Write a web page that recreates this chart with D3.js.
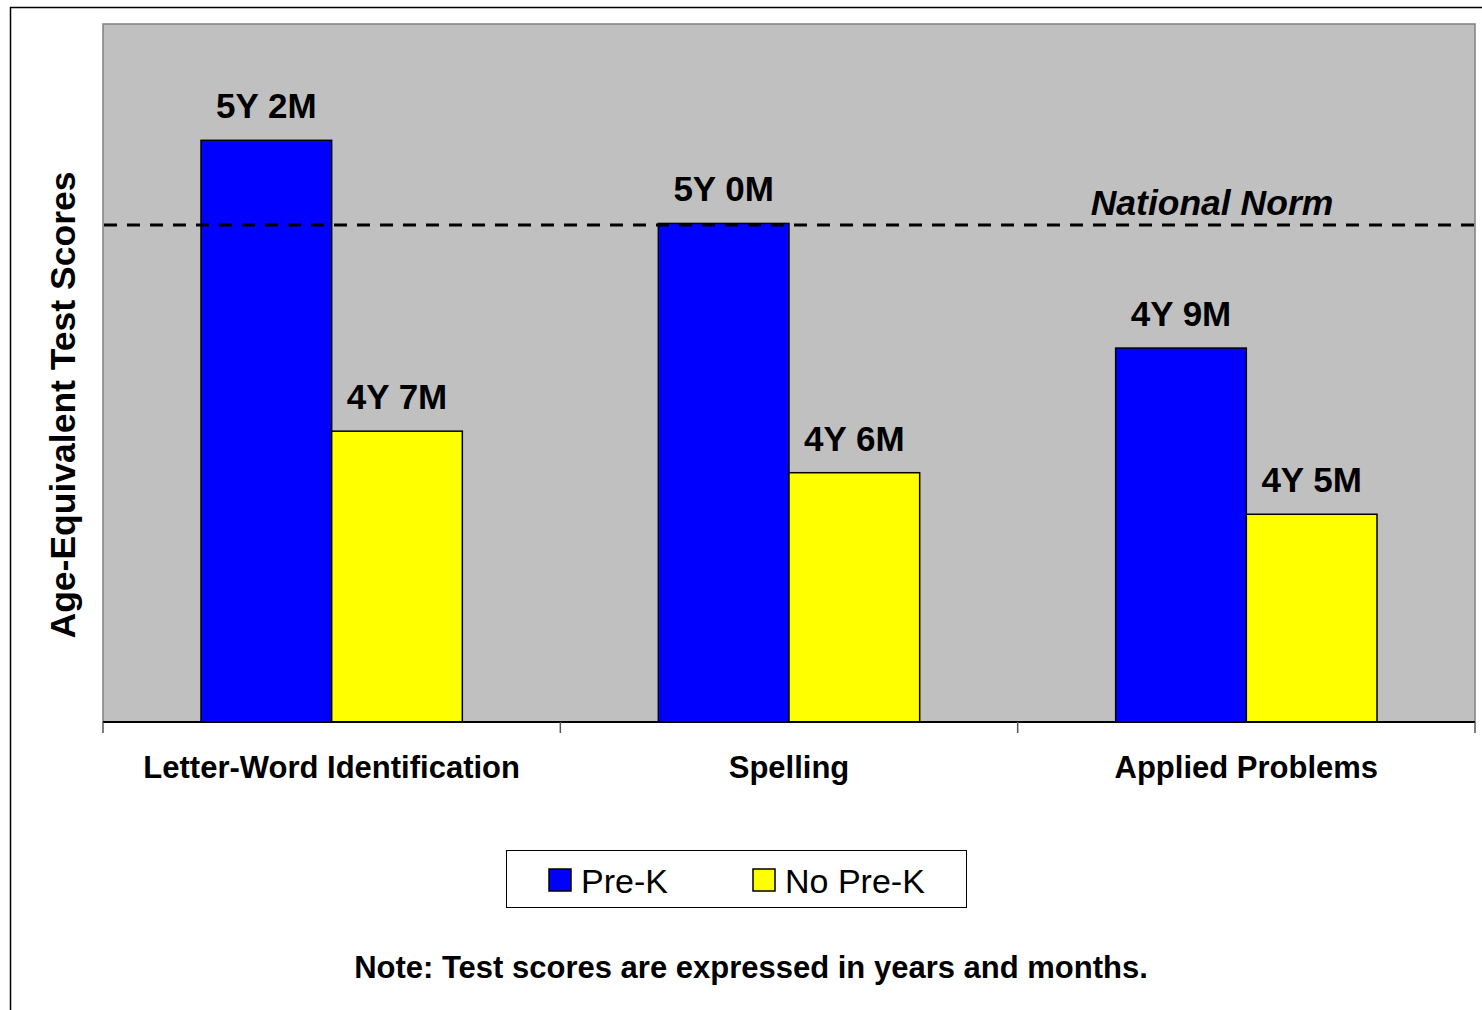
<!DOCTYPE html>
<html>
<head>
<meta charset="utf-8">
<script src="https://cdn.jsdelivr.net/npm/d3@7"></script>
<style>
  body { margin: 0; background: #fff; }
  svg { display: block; font-family: Arial, "Liberation Sans", sans-serif; }
</style>
</head>
<body>
<svg id="chart" width="1482" height="1010"></svg>
<script>
// data (scores in months)
const categories = ["Letter-Word Identification", "Spelling", "Applied Problems"];
const series = ["Pre-K", "No Pre-K"];
const preK = [62, 60, 57];
const noPreK = [55, 54, 53];
const seriesColors = ["#0000ff", "#ffff00"];
const nationalNorm = 60;
const yDomain = [48, 64.8];
const noteText = "Note: Test scores are expressed in years and months.";

const fmt = m => `${Math.floor(m / 12)}Y ${m % 12}M`;

const plot = { left: 103, right: 1475, top: 24, bottom: 722 };

const svg = d3.select("#chart");

// outer chart border (runs off the picture edge)
svg.append("rect")
  .attr("x", 10.5).attr("y", 7.5)
  .attr("width", 1600).attr("height", 1200)
  .attr("fill", "#fff")
  .attr("stroke", "#000")
  .attr("stroke-width", 1.5);

const x0 = d3.scaleBand()
  .domain(categories)
  .range([plot.left, plot.right])
  .padding(0);

const x1 = d3.scaleBand()
  .domain(series)
  .range([0, x0.bandwidth()])
  .paddingInner(0)
  .paddingOuter(0.75);

const y = d3.scaleLinear()
  .domain(yDomain)
  .range([plot.bottom, plot.top]);

// plot area
svg.append("rect")
  .attr("x", plot.left).attr("y", plot.top)
  .attr("width", plot.right - plot.left)
  .attr("height", plot.bottom - plot.top)
  .attr("fill", "#c0c0c0")
  .attr("stroke", "#808080")
  .attr("stroke-width", 1.5);

const rows = categories.map((c, i) => ({ cat: c, values: [preK[i], noPreK[i]] }));

const groups = svg.append("g")
  .selectAll("g")
  .data(rows)
  .join("g")
  .attr("transform", d => `translate(${x0(d.cat)},0)`);

groups.selectAll("rect")
  .data(d => d.values.map((v, j) => ({ s: series[j], v, j })))
  .join("rect")
  .attr("x", d => x1(d.s))
  .attr("y", d => y(d.v))
  .attr("width", x1.bandwidth())
  .attr("height", d => y(yDomain[0]) - y(d.v))
  .attr("fill", d => seriesColors[d.j])
  .attr("stroke", "#000")
  .attr("stroke-width", 1.5);

groups.selectAll("text")
  .data(d => d.values.map((v, j) => ({ s: series[j], v, j })))
  .join("text")
  .attr("x", d => x1(d.s) + x1.bandwidth() / 2)
  .attr("y", d => y(d.v) - 22)
  .attr("text-anchor", "middle")
  .attr("font-size", 35)
  .attr("font-weight", "bold")
  .attr("fill", "#000")
  .text(d => fmt(d.v));

// national norm line
svg.append("line")
  .attr("x1", plot.left + 1).attr("x2", plot.right)
  .attr("y1", y(nationalNorm) + 1.5).attr("y2", y(nationalNorm) + 1.5)
  .attr("stroke", "#000")
  .attr("stroke-width", 3)
  .attr("stroke-dasharray", "13,10");

svg.append("text")
  .attr("x", 1212)
  .attr("y", 215)
  .attr("text-anchor", "middle")
  .attr("font-size", 35.5)
  .attr("font-weight", "bold")
  .attr("font-style", "italic")
  .text("National Norm");

// x axis
const xAxis = svg.append("g")
  .attr("transform", `translate(0,${plot.bottom})`);

xAxis.append("line")
  .attr("x1", plot.left).attr("x2", plot.right)
  .attr("stroke", "#000").attr("stroke-width", 2);

const tickXs = categories.map(c => x0(c)).concat([plot.right]);
xAxis.selectAll("line.tick")
  .data(tickXs)
  .join("line")
  .attr("class", "tick")
  .attr("x1", d => d).attr("x2", d => d)
  .attr("y1", 0).attr("y2", 11)
  .attr("stroke", "#555").attr("stroke-width", 1.5);

xAxis.selectAll("text")
  .data(categories)
  .join("text")
  .attr("x", d => x0(d) + x0.bandwidth() / 2)
  .attr("y", 56)
  .attr("text-anchor", "middle")
  .attr("font-size", 31)
  .attr("font-weight", "bold")
  .text(d => d);

// y axis title
svg.append("text")
  .attr("transform", "translate(75,405) rotate(-90)")
  .attr("text-anchor", "middle")
  .attr("font-size", 35.5)
  .attr("font-weight", "bold")
  .text("Age-Equivalent Test Scores");

// legend
const legend = svg.append("g");
legend.append("rect")
  .attr("x", 506.5).attr("y", 850.5)
  .attr("width", 460).attr("height", 57)
  .attr("fill", "#fff")
  .attr("stroke", "#000")
  .attr("stroke-width", 1);

const legendX = [549, 753];
const items = legend.selectAll("g.item")
  .data(series)
  .join("g")
  .attr("class", "item")
  .attr("transform", (d, i) => `translate(${legendX[i]},869)`);

items.append("rect")
  .attr("width", 22).attr("height", 22)
  .attr("fill", (d, i) => seriesColors[i])
  .attr("stroke", "#000")
  .attr("stroke-width", 1.5);

items.append("text")
  .attr("x", 32)
  .attr("y", 24)
  .attr("font-size", 34)
  .text(d => d);

// note
svg.append("text")
  .attr("x", 751)
  .attr("y", 978)
  .attr("text-anchor", "middle")
  .attr("font-size", 31)
  .attr("font-weight", "bold")
  .text(noteText);
</script>
</body>
</html>
